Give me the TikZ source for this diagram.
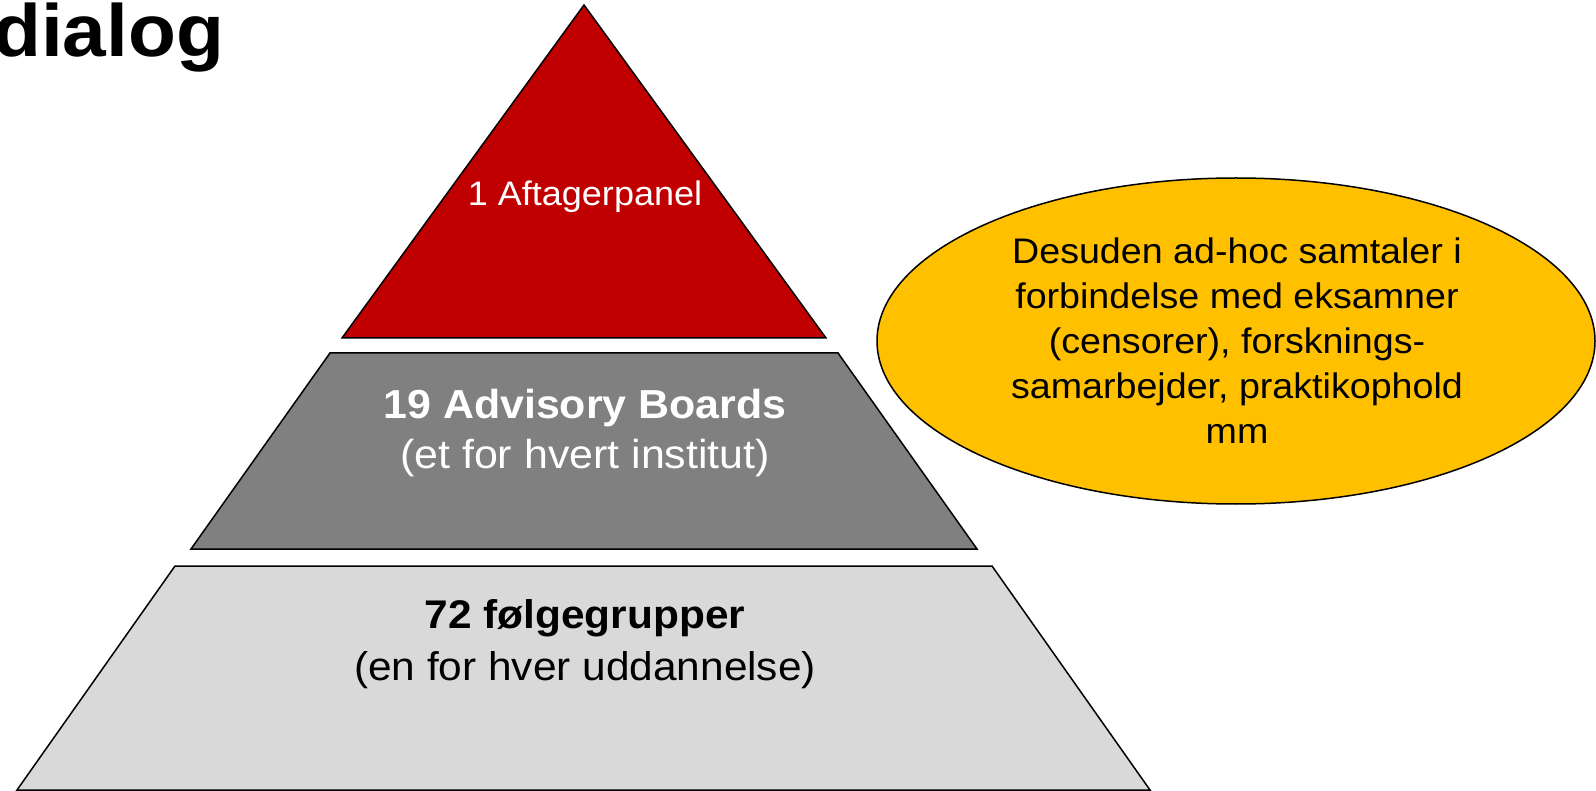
\documentclass[tikz,border=0pt]{standalone}
\usepackage{fontspec}
\setmainfont{Liberation Sans}[FakeStretch=1.06]
\usetikzlibrary{shapes.geometric}
\definecolor{pyrred}{RGB}{192,0,0}
\definecolor{pyrgrey}{RGB}{128,128,128}
\definecolor{pyrlight}{RGB}{217,217,217}
\definecolor{ellgold}{RGB}{255,192,0}
\tikzset{
  layer/.style={draw=black, line width=1.5pt, line join=miter},
  lbl/.style={inner sep=0pt, align=center, anchor=base},
}
\begin{document}
\begin{tikzpicture}[x=1pt,y=-1pt]
\useasboundingbox (0,0) rectangle (1596,791);
\clip (0,0) rectangle (1596,791);
% title
\node[inner sep=0pt, anchor=base west, font=\fontsize{74}{88}\selectfont\bfseries] (title) at (-7,57) {dialog};
% top triangle
\coordinate (tA) at (584,5);
\coordinate (tR) at (826,338);
\coordinate (tL) at (342,338);
\draw[layer, fill=pyrred] (tA) -- (tR) -- (tL) -- cycle;
\node[lbl, text=white, font=\fontsize{34}{40}\selectfont] (t1) at (585,206) {1 Aftagerpanel};
% middle trapezoid
\coordinate (mTL) at (330,353);
\coordinate (mTR) at (838,353);
\coordinate (mBR) at (977,549);
\coordinate (mBL) at (191,549);
\draw[layer, fill=pyrgrey] (mTL) -- (mTR) -- (mBR) -- (mBL) -- cycle;
\node[lbl, text=white, font=\fontsize{40.5}{50}\selectfont] (t2) at (585,468) {\textbf{19 Advisory Boards}\\(et for hvert institut)};
% bottom trapezoid
\coordinate (bTL) at (175,566);
\coordinate (bTR) at (992,566);
\coordinate (bBR) at (1150,790);
\coordinate (bBL) at (17,790);
\draw[layer, fill=pyrlight] (bTL) -- (bTR) -- (bBR) -- (bBL) -- cycle;
\node[lbl, text=black, font=\fontsize{40}{52}\selectfont] (t3) at (585,680) {\textbf{72 følgegrupper}\\(en for hver uddannelse)};
% ellipse
\node[ellipse, draw=black, line width=1.5pt, fill=ellgold, minimum width=718pt, minimum height=326pt, inner sep=0pt] (ell) at (1236,341) {};
\node[lbl, text=black, font=\fontsize{35.5}{45}\selectfont] (t4) at (1237,443) {Desuden ad-hoc samtaler i\\forbindelse med eksamner\\(censorer), forsknings-\\samarbejder, praktikophold\\mm};
\end{tikzpicture}
\end{document}
